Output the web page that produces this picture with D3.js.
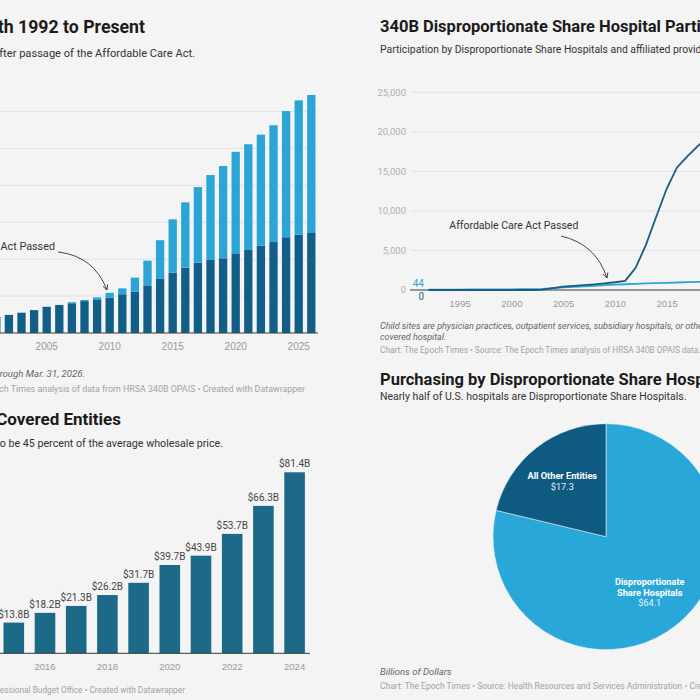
<!DOCTYPE html>
<html>
<head>
<meta charset="utf-8">
<script src="https://cdn.jsdelivr.net/npm/d3@7"></script>
<style>
  body { margin: 0; background: #f4f4f4; }
  svg { display: block; font-family: Roboto, "Noto Sans", sans-serif; }
</style>
</head>
<body>
<svg id="chart" width="700" height="700"></svg>
<script>
// ---- data ----
// growth of covered entity sites (parents + child sites), only the visible years
const growthFirstYear = 1992
const growthLastYear = 2026
const growthYears = [2001,2002,2003,2004,2005,2006,2007,2008,2009,2010,2011,2012,2013,
  2014,2015,2016,2017,2018,2019,2020,2021,2022,2023,2024,2025,2026]
const growthParents = [4400,4900,5500,6200,7100,7600,8050,8650,8950,9550,10500,11200,12750,
  14650,16350,17700,19050,19800,20250,21600,22500,23650,24650,25950,26650,27100]
const growthChildren = [0,0,0,0,0,0,300,300,700,1350,1600,3800,6850,
  10500,14450,17700,20500,23000,25000,27500,28650,30100,31650,34200,36400,37400]
const growthTicks = [0,10000,20000,30000,40000,50000,60000]
const growthLabelYears = [1995,2000,2005,2010,2015,2020,2025]

// 340B purchases, billions
const purchaseYears = [2015,2016,2017,2018,2019,2020,2021,2022,2023,2024]
const purchaseValues = [13.8,18.2,21.3,26.2,31.7,39.7,43.9,53.7,66.3,81.4]
const purchaseLabelYears = [2016,2018,2020,2022,2024]

// DSH participation
const dshYears = [1992,1993,1994,1995,1996,1997,1998,1999,2000,2001,2002,2003,2004,2005,
  2006,2007,2008,2009,2010,2011,2012,2013,2014,2015,2016,2017,2018,2019]
const dshHospitals = [44,50,55,60,65,70,75,80,85,95,110,140,220,320,
  400,470,540,610,680,730,780,830,870,910,950,990,1020,1040]
const dshChildSites = [0,0,0,0,0,0,0,0,0,0,0,50,250,420,
  520,620,720,840,980,1150,2800,5700,9300,12800,15500,16900,18200,19300]
const dshTicks = [0,5000,10000,15000,20000,25000]
const dshLabelYears = [1995,2000,2005,2010,2015,2020]

// purchasing split, billions
const pieLabels = [["Disproportionate","Share Hospitals"],["All Other Entities"]]
const pieValues = [64.1,17.3]
const pieValueText = ["$64.1","$17.3"]

const c = {
  title: "#1b1b1b", sub: "#333", note: "#666", source: "#a3a3a3", axis: "#9a9a9a",
  grid: "#e2e2e2", base: "#3a3a3a",
  dark: "#115e89", light: "#2ba4d6", teal: "#1c6988",
  lineDark: "#1a5b80", lineLight: "#2ba4d6",
  pieLight: "#29a7d9", pieDark: "#0f5a81"
}

const svg = d3.select("#chart")
svg.append("rect").attr("width",700).attr("height",700).attr("fill","#f4f4f4")

svg.append("defs").append("marker")
  .attr("id","arrow")
  .attr("viewBox","0 0 10 10")
  .attr("refX",9).attr("refY",5)
  .attr("markerWidth",7).attr("markerHeight",7)
  .attr("orient","auto")
  .append("path")
  .attr("d","M1,1 L9,5 L1,9")
  .attr("fill","none").attr("stroke","#333").attr("stroke-width",1.3)

function txt(parent, x, y, s, size, color, opts) {
  opts = opts || {}
  return parent.append("text")
    .attr("x",x).attr("y",y)
    .attr("font-size",size)
    .attr("fill",color)
    .attr("font-weight",opts.bold ? 700 : 400)
    .attr("font-style",opts.italic ? "italic" : "normal")
    .attr("text-anchor",opts.anchor || "start")
    .text(s)
}

// ---- top left: stacked bars ----
function growthChart() {
  const g = svg.append("g")
  const base = 333
  txt(g,145,32.5,"340B Covered Entity Growth 1992 to Present",17.7,c.title,{bold:true,anchor:"end"})
  txt(g,195,56.5,"The number of registered sites surged after passage of the Affordable Care Act.",11.1,c.sub,{anchor:"end"})

  const x = d3.scaleBand()
    .domain(d3.range(growthFirstYear, growthLastYear + 1))
    .range([-123.4, 317.6])
    .paddingInner(0.34).paddingOuter(0.17)
  const y = d3.scaleLinear().domain([0,60000]).range([base,111.6])

  g.append("g").selectAll("line").data(growthTicks.slice(1)).join("line")
    .attr("x1",-10).attr("x2",318)
    .attr("y1",d=>y(d)).attr("y2",d=>y(d))
    .attr("stroke",c.grid)

  const rows = growthYears.map((yr,i)=>({year:yr, parents:growthParents[i], children:growthChildren[i]}))
  const series = d3.stack().keys(["parents","children"])(rows)
  g.append("g").selectAll("g").data(series).join("g")
    .attr("fill",(d,i)=> i ? c.light : c.dark)
    .selectAll("rect").data(d=>d).join("rect")
    .attr("x",d=>x(d.data.year))
    .attr("width",x.bandwidth())
    .attr("y",d=>y(d[1]))
    .attr("height",d=>y(d[0]) - y(d[1]))

  const xAxis = d3.axisBottom(x).tickValues(growthLabelYears).tickSize(0).tickPadding(10)
  const ax = g.append("g").attr("transform","translate(0,"+base+")").call(xAxis)
  ax.select(".domain").remove()
  ax.selectAll("text").attr("font-size",10).attr("fill",c.axis).attr("font-family",null)
  g.append("line").attr("x1",-10).attr("x2",318).attr("y1",base).attr("y2",base)
    .attr("stroke",c.base).attr("stroke-width",1)

  txt(g,55,249.5,"Affordable Care Act Passed",10.8,"#333",{anchor:"end"})
  g.append("path")
    .attr("d","M58,252 Q94,256 107,290")
    .attr("fill","none").attr("stroke","#333").attr("stroke-width",0.9)
    .attr("marker-end","url(#arrow)")

  txt(g,85,377,"Data through Mar. 31, 2026.",9.7,c.note,{italic:true,anchor:"end"})
  txt(g,305,391.5,"Chart: The Epoch Times • Source: The Epoch Times analysis of data from HRSA 340B OPAIS • Created with Datawrapper",8.9,c.source,{anchor:"end"})
}

// ---- bottom left: purchases ----
function purchaseChart() {
  const g = svg.append("g")
  const base = 653.3
  txt(g,121,424.5,"340B Drug Purchases by Covered Entities",17,c.title,{bold:true,anchor:"end"})
  txt(g,223,447,"Purchases are at list price, which is estimated to be 45 percent of the average wholesale price.",10.7,c.sub,{anchor:"end"})

  const x = d3.scaleBand().domain(purchaseYears).range([-1.8,310.2])
    .paddingInner(0.34).paddingOuter(0.17)
  const y = d3.scaleLinear().domain([0,81.4]).range([base,472.3])

  g.append("g").selectAll("rect").data(purchaseYears).join("rect")
    .attr("x",d=>x(d)).attr("width",x.bandwidth())
    .attr("y",(d,i)=>y(purchaseValues[i]))
    .attr("height",(d,i)=>base - y(purchaseValues[i]))
    .attr("fill",c.teal)

  g.append("g").selectAll("text").data(purchaseYears).join("text")
    .attr("x",d=>x(d) + x.bandwidth()/2)
    .attr("y",(d,i)=>y(purchaseValues[i]) - 5)
    .attr("text-anchor","middle").attr("font-size",10).attr("fill","#444")
    .text((d,i)=>"$" + purchaseValues[i].toFixed(1) + "B")

  const ax = g.append("g").attr("transform","translate(0,"+base+")")
    .call(d3.axisBottom(x).tickValues(purchaseLabelYears).tickSize(0).tickPadding(10))
  ax.select(".domain").remove()
  ax.selectAll("text").attr("font-size",9.5).attr("fill",c.axis).attr("font-family",null)
  g.append("line").attr("x1",-10).attr("x2",310).attr("y1",base).attr("y2",base)
    .attr("stroke",c.base)

  txt(g,185,692.5,"Chart: The Epoch Times • Source: Congressional Budget Office • Created with Datawrapper",8.3,c.source,{anchor:"end"})
}

// ---- top right: line chart ----
function dshChart() {
  const g = svg.append("g")
  const left = 380
  txt(g,left,32.3,"340B Disproportionate Share Hospital Participation",16.5,c.title,{bold:true})
  txt(g,left,52.7,"Participation by Disproportionate Share Hospitals and affiliated providers, called child sites.",10.4,c.sub)

  const x = d3.scaleLinear().domain([1992,2019]).range([428.6,428.6 + 27*10.35])
  const y = d3.scaleLinear().domain([0,25000]).range([290,92.3])

  g.append("g").selectAll("line").data(dshTicks.slice(1)).join("line")
    .attr("x1",411).attr("x2",710)
    .attr("y1",d=>y(d)).attr("y2",d=>y(d))
    .attr("stroke",c.grid)
  g.append("g").selectAll("text").data(dshTicks).join("text")
    .attr("x",406).attr("y",d=>y(d) + 3.4)
    .attr("text-anchor","end").attr("font-size",9.5).attr("fill","#b0b0b0")
    .text(d3.format(","))

  const ax = g.append("g").attr("transform","translate(0,290)")
    .call(d3.axisBottom(x).tickValues(dshLabelYears).tickFormat(d3.format("d")).tickSize(0).tickPadding(10))
  ax.select(".domain").remove()
  ax.selectAll("text").attr("font-size",9.5).attr("fill",c.axis).attr("font-family",null)
  g.append("line").attr("x1",410).attr("x2",710).attr("y1",290).attr("y2",290)
    .attr("stroke",c.base)

  const line = d3.line().x((d,i)=>x(dshYears[i])).y(d=>y(d))
  g.append("path").datum(dshHospitals).attr("d",line)
    .attr("fill","none").attr("stroke",c.lineLight).attr("stroke-width",1.8)
  g.append("path").datum(dshChildSites).attr("d",line)
    .attr("fill","none").attr("stroke",c.lineDark).attr("stroke-width",1.8)

  txt(g,424,286.8,String(dshHospitals[0]),10,c.lineLight,{anchor:"end"})
  txt(g,424,299.5,String(dshChildSites[0]),10,"#1f6f9c",{anchor:"end"})

  txt(g,449.3,228.7,"Affordable Care Act Passed",10.5,"#333")
  g.append("path")
    .attr("d","M561,236 Q596,244 607,278")
    .attr("fill","none").attr("stroke","#333").attr("stroke-width",0.9)
    .attr("marker-end","url(#arrow)")

  txt(g,left,328.8,"Child sites are physician practices, outpatient services, subsidiary hospitals, or other facilities registered under a",9,c.note,{italic:true})
  txt(g,left,339.5,"covered hospital.",9,c.note,{italic:true})
  txt(g,left,352.5,"Chart: The Epoch Times  • Source: The Epoch Times analysis of HRSA 340B OPAIS data.",8.3,c.source)
}

// ---- bottom right: pie ----
function pieChart() {
  const g = svg.append("g")
  const left = 380
  txt(g,left,385,"Purchasing by Disproportionate Share Hospitals",16.5,c.title,{bold:true})
  txt(g,left,400,"Nearly half of U.S. hospitals are Disproportionate Share Hospitals.",10.5,c.sub)

  const cx = 606, cy = 536.7, r = 113
  const arcs = d3.pie().sort(null)(pieValues)
  const arc = d3.arc().innerRadius(0).outerRadius(r)
  const labelArc = d3.arc().innerRadius(r*0.625).outerRadius(r*0.625)
  const pg = g.append("g").attr("transform","translate("+cx+","+cy+")")
  pg.selectAll("path").data(arcs).join("path")
    .attr("d",arc)
    .attr("fill",(d,i)=> i ? c.pieDark : c.pieLight)
    .attr("stroke","#dfeef5").attr("stroke-width",0.6)

  arcs.forEach((a,i)=>{
    const [lx,ly] = labelArc.centroid(a)
    const lines = pieLabels[i].concat([pieValueText[i]])
    lines.forEach((s,j)=>{
      const yy = ly + (j - (lines.length - 1)/2)*10.5 + 3.5
      txt(pg,lx,yy,s,9.2,j < lines.length - 1 ? "#fff" : "#e3f1f8",
        {bold: j < lines.length - 1, anchor:"middle"})
    })
  })

  txt(g,left,675,"Billions of Dollars",9.5,c.note,{italic:true})
  txt(g,left,689,"Chart: The Epoch Times  • Source: Health Resources and Services Administration • Created with Datawrapper",8.5,c.source)
}

growthChart()
purchaseChart()
dshChart()
pieChart()
</script>
</body>
</html>
